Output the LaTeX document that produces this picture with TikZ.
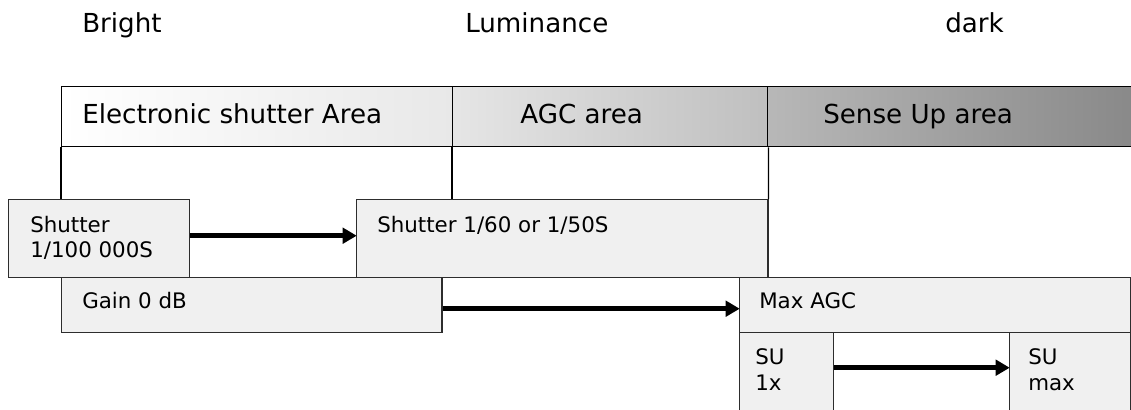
\documentclass[tikz,border=0pt]{standalone}
\usepackage{fontspec}
\setmainfont{DejaVu Sans}
\usetikzlibrary{arrows.meta,positioning}
\definecolor{boxfill}{RGB}{240,240,240}
\definecolor{boxline}{RGB}{45,45,45}
\tikzset{
  cell/.style={draw=black, line width=1pt, minimum height=1.5cm, inner sep=0pt, anchor=north west},
  stage/.style={draw=boxline, fill=boxfill, line width=1pt, inner sep=0pt, anchor=north west},
  big/.style={font=\fontsize{18.6}{22}\selectfont, inner sep=0pt, anchor=base west},
  small/.style={font=\fontsize{15.2}{18}\selectfont, inner sep=0pt, align=left, anchor=north west},
  flow/.style={-{Triangle[length=10pt, width=11pt]}, line width=3.5pt, shorten >=-0.5pt}
}
\begin{document}
\begin{tikzpicture}[x=0.025cm, y=-0.025cm]
  \useasboundingbox (0,0) rectangle (1131,409);
  % luminance scale
  \node[big] (bright) at (82,32) {Bright};
  \node[big] (lum) at (465,32) {Luminance};
  \node[big] (dark) at (945,32) {dark};

  % header band, one shaded cell per area
  \node[cell, minimum width=9.775cm, left color=white, right color=gray!18] (esa) at (61,86) {};
  \node[cell, minimum width=7.875cm, left color=gray!20, right color=gray!50] (agc) at (452,86) {};
  \node[cell, minimum width=9.5cm, left color=gray!56, right color=gray!94] (sua) at (767,86) {};
  \node[big] (esatxt) at ([xshift=0.525cm, yshift=-0.175cm]esa.west) {Electronic shutter Area};
  \node[big] (agctxt) at ([xshift=1.7cm, yshift=-0.175cm]agc.west) {AGC area};
  \node[big] (suatxt) at ([xshift=1.4cm, yshift=-0.175cm]sua.west) {Sense Up area};

  % stage boxes
  \node[stage, minimum width=4.525cm, minimum height=1.95cm] (shut) at (8,199) {};
  \node[stage, minimum width=10.275cm, minimum height=1.95cm] (slow) at (356,199) {};
  \node[stage, minimum width=9.5cm, minimum height=1.375cm] (gain) at (61,277) {};
  \node[stage, minimum width=9.775cm, minimum height=1.375cm] (maxagc) at (739,277) {};
  \node[stage, minimum width=2.35cm, minimum height=2.2cm] (su1) at (739,332) {};
  \node[stage, minimum width=3.025cm, minimum height=2.2cm] (sumax) at (1009,332) {};

  % drop lines from the header
  \draw[line width=1pt] (esa.south west) -- (esa.south west |- shut.north);
  \draw[line width=1pt] (agc.south west) -- (agc.south west |- slow.north);
  \draw[line width=1pt] (agc.south east) -- (slow.north east);

  % box texts
  \node[small] (shuttxt) at ([xshift=0.55cm, yshift=-0.425cm]shut.north west) {Shutter\\1/100 000S};
  \node[small] (slowtxt) at ([xshift=0.525cm, yshift=-0.425cm]slow.north west) {Shutter 1/60 or 1/50S};
  \node[small] (gaintxt) at ([xshift=0.525cm, yshift=-0.375cm]gain.north west) {Gain 0 dB};
  \node[small] (maxtxt) at ([xshift=0.5cm, yshift=-0.39cm]maxagc.north west) {Max AGC};
  \node[small] (su1txt) at ([xshift=0.4cm, yshift=-0.415cm]su1.north west) {SU\\1x};
  \node[small] (sumaxtxt) at ([xshift=0.475cm, yshift=-0.415cm]sumax.north west) {SU\\max};

  % arrows
  \draw[flow] ([yshift=0.075cm]shut.east) -- ([yshift=0.075cm]slow.west);
  \draw[flow] ([yshift=-0.0875cm]gain.east) -- ([yshift=-0.0875cm]maxagc.west);
  \draw[flow] ([yshift=0.225cm]su1.east) -- ([yshift=0.225cm]sumax.west);
\end{tikzpicture}
\end{document}
